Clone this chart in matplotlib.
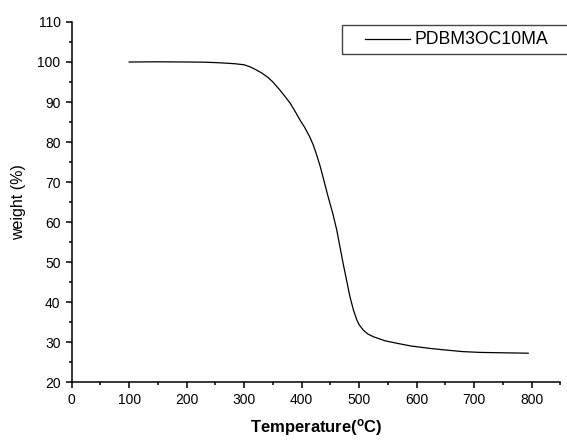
import matplotlib
matplotlib.use('Agg')
import matplotlib.pyplot as plt
from matplotlib.patches import Rectangle
from matplotlib.lines import Line2D
from matplotlib.ticker import MultipleLocator

plt.rcParams['font.family'] = ['Liberation Sans', 'DejaVu Sans']
plt.rcParams['mathtext.fontset'] = 'custom'
plt.rcParams['mathtext.rm'] = 'Liberation Sans:bold'

# TGA curve
temperature = [100, 150, 200, 230, 250, 270, 285, 300, 310, 320, 330, 340, 350,
               362, 372, 380, 390, 397, 405, 414, 420, 426, 432, 437, 446, 454,
               461, 472, 484, 490, 496, 500, 507, 515, 525, 545, 565, 590, 623,
               650, 680, 710, 750, 794]
weight = [100.0, 100.05, 100.0, 99.95, 99.85, 99.7, 99.55, 99.3, 98.8, 98.1,
          97.3, 96.3, 95.0, 93.0, 91.2, 89.7, 87.3, 85.5, 83.7, 81.3, 79.3,
          76.8, 74.0, 71.3, 66.3, 62.2, 58.0, 49.7, 41.3, 38.0, 35.5, 34.3,
          33.0, 32.0, 31.3, 30.3, 29.7, 29.0, 28.4, 28.0, 27.6, 27.4, 27.3, 27.2]
label = 'PDBM3OC10MA'

fig = plt.figure(figsize=(5.67, 4.4), dpi=100)
ax = fig.add_axes([71.7 / 567, 58 / 440, 488.7 / 567, 360 / 440])

ax.plot(temperature, weight, color='black', lw=0.9)

ax.set_xlim(0, 850)
ax.set_ylim(20, 110)
ax.xaxis.set_major_locator(MultipleLocator(100))
ax.xaxis.set_minor_locator(MultipleLocator(50))
ax.yaxis.set_major_locator(MultipleLocator(10))
ax.yaxis.set_minor_locator(MultipleLocator(5))
for s in ['top', 'right']:
    ax.spines[s].set_visible(False)
for s in ['left', 'bottom']:
    ax.spines[s].set_linewidth(1.1)
ax.tick_params(which='major', direction='out', length=4.5, width=1.1, labelsize=10)
ax.tick_params(which='minor', direction='out', length=2.5, width=1.1)

ax.set_ylabel('weight (%)', fontsize=11.5, labelpad=8)
ax.set_xlabel(r'Temperature($\mathregular{^{o}}$C)', fontsize=12, fontweight='bold', labelpad=7)

# legend box, open on the right side
fig.patches.append(Rectangle((341.5 / 567, (440 - 54.3) / 440), 240 / 567, 29 / 440,
                             transform=fig.transFigure, fill=False, ec='#444444', lw=1.0))
fig.lines.append(Line2D([364.5 / 567, 410 / 567], [1 - 39.3 / 440] * 2,
                        transform=fig.transFigure, color='black', lw=0.9))
fig.text(415 / 567, 1 - 39.8 / 440, label, fontsize=12.7, va='center', ha='left')

fig.savefig('out.png', dpi=100)
